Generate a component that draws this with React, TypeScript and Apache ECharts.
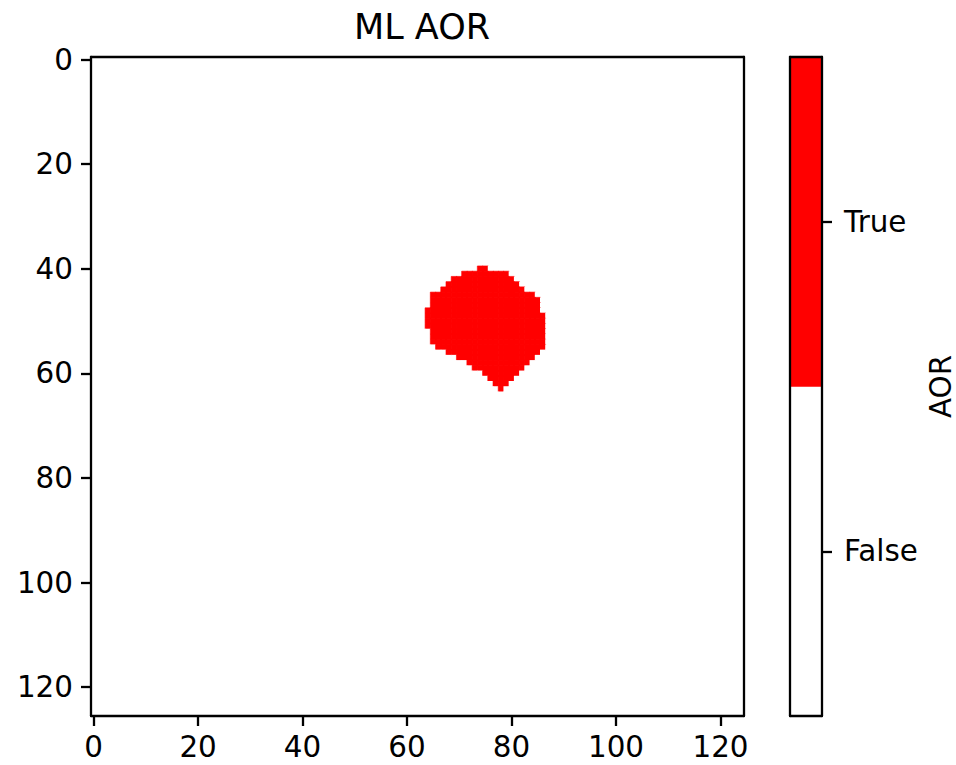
import React, { useEffect, useRef } from "react";
import * as echarts from "echarts";

// Mask grid size (columns x rows)
const GRID_COLS = 125;
const GRID_ROWS = 126;

// Rows covered by the AOR region, with first/last column of each row (inclusive)
const AOR_ROWS = [40, 41, 42, 43, 44, 45, 46, 47, 48, 49, 50, 51, 52, 53, 54, 55, 56, 57, 58, 59, 60, 61, 62, 63];
const AOR_COL_FROM = [74, 71, 69, 68, 67, 65, 65, 65, 64, 64, 64, 64, 65, 65, 65, 66, 68, 70, 72, 73, 75, 76, 77, 78];
const AOR_COL_TO = [75, 79, 80, 81, 82, 84, 85, 85, 85, 86, 86, 86, 86, 86, 86, 86, 85, 84, 83, 82, 81, 80, 79, 78];

// Colour bar classes, bottom to top
const CLASS_LABELS = ["False", "True"];
const CLASS_COLORS = ["#ffffff", "#ff0000"];

const TICK_STEP = 20;
const FONT = "DejaVu Sans";

function buildMaskData() {
  const data: any[] = [];
  for (let y = 0; y < GRID_ROWS; y++) {
    const k = AOR_ROWS.indexOf(y);
    for (let x = 0; x < GRID_COLS; x++) {
      const inside = k >= 0 && x >= AOR_COL_FROM[k] && x <= AOR_COL_TO[k];
      if (inside) {
        data.push({
          value: [x, y, 1],
          itemStyle: { borderColor: CLASS_COLORS[1], borderWidth: 0.6 },
        });
      } else {
        data.push([x, y, 0]);
      }
    }
  }
  return data;
}

export default function App() {
  const ref = useRef<HTMLDivElement>(null);

  useEffect(() => {
    if (!ref.current) return;
    const chart = echarts.init(ref.current, undefined, { renderer: "svg" });

    const xCats = Array.from({ length: GRID_COLS }, (_, i) => String(i));
    const yCats = Array.from({ length: GRID_ROWS }, (_, i) => String(i));
    const every = (idx: number) => idx % TICK_STEP === 0;

    const axisText = { color: "#000", fontSize: 29.4, fontFamily: FONT };
    const blackLine = { color: "#000", width: 2.3 };

    // plain frame edge: axis line only
    const frameAxis = (gridIndex: number, position: string, data: string[]) => ({
      type: "category",
      gridIndex,
      position,
      data,
      z: 10,
      axisLine: { show: true, onZero: false, lineStyle: blackLine },
      axisTick: { show: false },
      axisLabel: { show: false },
      splitLine: { show: false },
    });

    chart.setOption({
      animation: false,
      backgroundColor: "#ffffff",
      title: {
        text: "ML AOR",
        left: 417,
        top: 4,
        textAlign: "center",
        textStyle: { color: "#000", fontSize: 35, fontWeight: "normal", fontFamily: FONT },
      },
      grid: [
        { left: 91, top: 57, width: 653, height: 659, outerBoundsMode: "none", containLabel: false },
        { left: 790, top: 57, width: 32, height: 659, outerBoundsMode: "none", containLabel: false },
      ],
      xAxis: [
        {
          type: "category",
          gridIndex: 0,
          position: "bottom",
          data: xCats,
          z: 10,
          boundaryGap: true,
          axisLine: { show: true, onZero: false, lineStyle: blackLine },
          axisTick: { show: true, interval: every, alignWithLabel: true, length: 10, lineStyle: blackLine },
          axisLabel: { interval: every, margin: 16, ...axisText },
          splitLine: { show: false },
        },
        frameAxis(1, "bottom", [""]),
        frameAxis(0, "top", xCats),
        frameAxis(1, "top", [""]),
      ],
      yAxis: [
        {
          type: "category",
          gridIndex: 0,
          position: "left",
          data: yCats,
          inverse: true,
          z: 10,
          boundaryGap: true,
          axisLine: { show: true, onZero: false, lineStyle: blackLine },
          axisTick: { show: true, interval: every, alignWithLabel: true, length: 10, lineStyle: blackLine },
          axisLabel: { interval: every, margin: 18, ...axisText },
          splitLine: { show: false },
        },
        {
          type: "category",
          gridIndex: 1,
          data: CLASS_LABELS,
          position: "right",
          z: 10,
          boundaryGap: true,
          axisLine: { show: true, onZero: false, lineStyle: blackLine },
          axisTick: { show: true, alignWithLabel: true, length: 10, lineStyle: blackLine },
          axisLabel: { margin: 22, ...axisText },
          name: "AOR",
          nameLocation: "middle",
          nameRotate: 90,
          nameGap: 104,
          nameTextStyle: { ...axisText },
        },
        frameAxis(0, "right", yCats),
        frameAxis(1, "left", CLASS_LABELS),
      ],
      visualMap: {
        type: "piecewise",
        show: false,
        dimension: 2,
        seriesIndex: [0, 1],
        pieces: [
          { value: 0, color: CLASS_COLORS[0] },
          { value: 1, color: CLASS_COLORS[1] },
        ],
      },
      series: [
        {
          type: "heatmap",
          xAxisIndex: 0,
          yAxisIndex: 0,
          data: buildMaskData(),
          progressive: 0,
          emphasis: { disabled: true },
          silent: true,
          z: 1,
        },
        {
          type: "heatmap",
          xAxisIndex: 1,
          yAxisIndex: 1,
          data: CLASS_LABELS.map((_, i) => [0, i, i]),
          progressive: 0,
          emphasis: { disabled: true },
          silent: true,
          z: 1,
        },
      ],
    });

    return () => chart.dispose();
  }, []);

  return (
    <div
      ref={ref}
      style={{ position: "absolute", left: 0, top: 0, width: 956, height: 765 }}
    />
  );
}
